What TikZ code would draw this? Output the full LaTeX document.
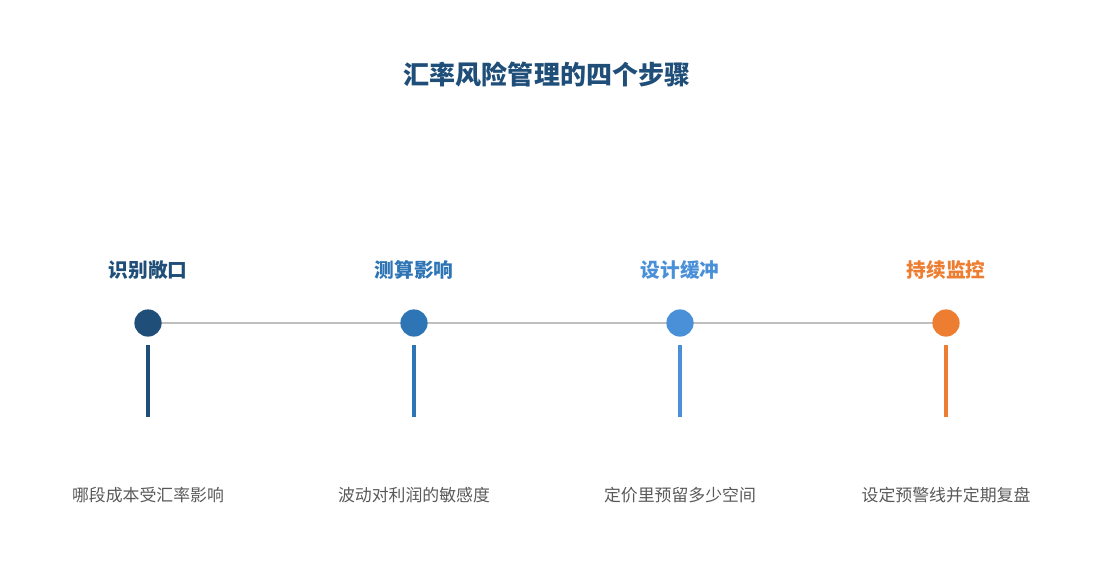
\documentclass[tikz,border=0pt]{standalone}
\usepackage{fontspec}
\setmainfont{Noto Sans CJK SC}
\usetikzlibrary{arrows.meta}
\definecolor{stepA}{HTML}{1F4E79}
\definecolor{stepB}{HTML}{2E75B6}
\definecolor{stepC}{HTML}{4A90D9}
\definecolor{stepD}{HTML}{ED7D31}
\definecolor{txtgray}{HTML}{595959}
\begin{document}
\begin{tikzpicture}[x=0.025cm,y=-0.025cm,
  dot/.style={circle,fill=#1,minimum size=0.68cm,inner sep=0pt},
  head/.style={text=#1,font=\fontsize{14pt}{16pt}\selectfont\bfseries},
  desc/.style={text=txtgray,font=\fontsize{12pt}{14pt}\selectfont},
  link/.style={draw=gray!50,line width=2pt,-{Stealth[length=6pt]}},
  stem/.style={draw=#1,line width=2.2pt}]
\useasboundingbox (0,0) rectangle (1095,585);
\node[text=stepA,font=\fontsize{18.5pt}{20pt}\selectfont\bfseries] (title) at (547,75) {汇率风险管理的四个步骤};

\node[head=stepA] (h1) at (148,270) {识别敞口};
\node[head=stepB] (h2) at (414,270) {测算影响};
\node[head=stepC] (h3) at (680,270) {设计缓冲};
\node[head=stepD] (h4) at (946,270) {持续监控};

\coordinate (t1) at (148,345); \coordinate (b1) at (148,417);
\coordinate (t2) at (414,345); \coordinate (b2) at (414,417);
\coordinate (t3) at (680,345); \coordinate (b3) at (680,417);
\coordinate (t4) at (946,345); \coordinate (b4) at (946,417);

\draw[link] (148,323) -- (409,323);
\draw[link] (414,323) -- (675,323);
\draw[link] (680,323) -- (941,323);

\node[dot=stepA] (d1) at (148,323) {};
\node[dot=stepB] (d2) at (414,323) {};
\node[dot=stepC] (d3) at (680,323) {};
\node[dot=stepD] (d4) at (946,323) {};

\draw[stem=stepA] (t1) -- (b1);
\draw[stem=stepB] (t2) -- (b2);
\draw[stem=stepC] (t3) -- (b3);
\draw[stem=stepD] (t4) -- (b4);

\node[desc] (s1) at (148,495) {哪段成本受汇率影响};
\node[desc] (s2) at (414,495) {波动对利润的敏感度};
\node[desc] (s3) at (680,495) {定价里预留多少空间};
\node[desc] (s4) at (946,495) {设定预警线并定期复盘};
\end{tikzpicture}
\end{document}
